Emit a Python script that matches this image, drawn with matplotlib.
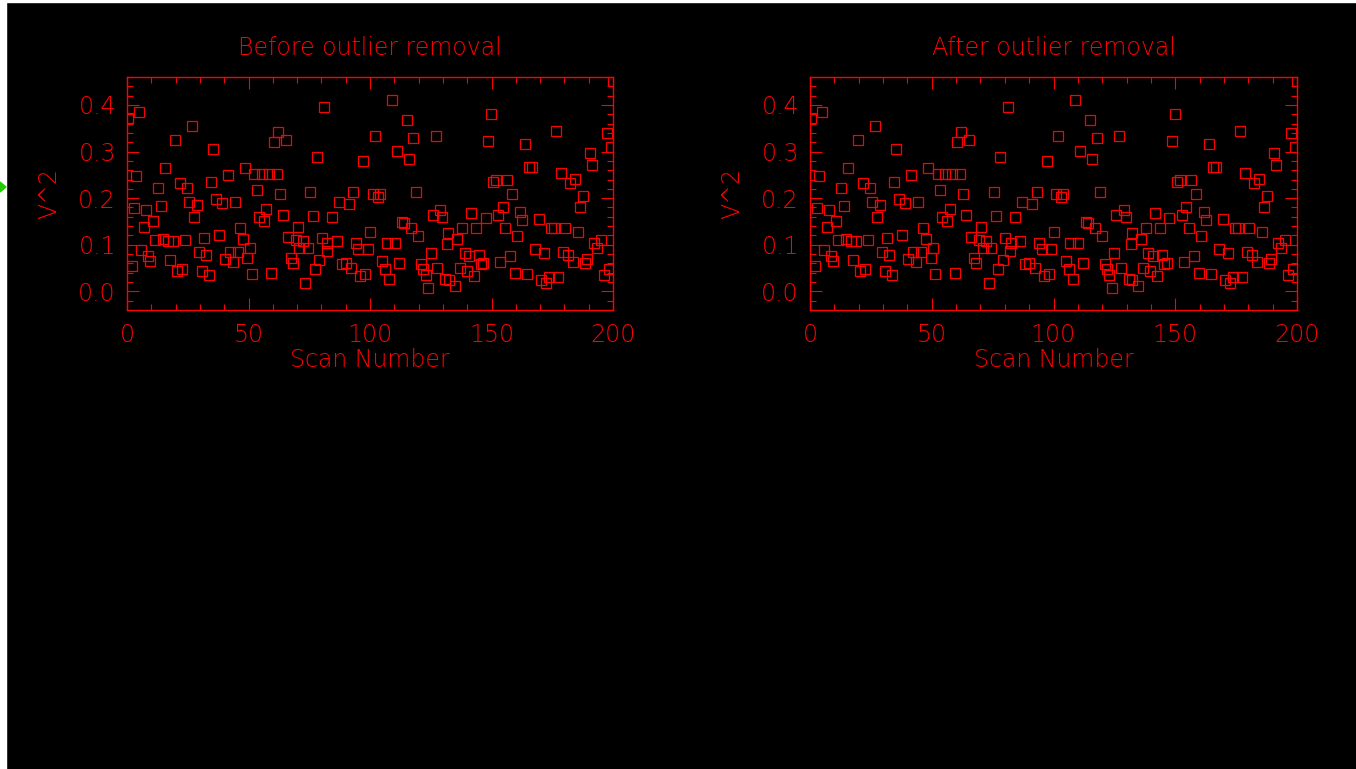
import matplotlib

matplotlib.use("Agg")
import matplotlib.pyplot as plt
from matplotlib.patches import Polygon, Rectangle
from matplotlib.ticker import MultipleLocator, FormatStrFormatter

# values (scan number, V^2)
scan_before = [
    0.5, 1.9, 2.8, 3.8, 4.8, 5.8, 6.9, 7.8, 8.6, 9.6,
    10.8, 11.7, 12.8, 13.9, 14.7, 15.8, 16.7, 17.7, 18.8, 19.8,
    20.6, 21.7, 22.6, 23.7, 24.6, 25.6, 26.7, 27.7, 28.7, 29.6,
    30.7, 31.6, 32.5, 33.6, 34.6, 35.5, 36.6, 37.7, 39.1, 40.4,
    41.6, 42.4, 43.6, 44.4, 45.6, 46.5, 47.6, 48.4, 49.5, 50.6,
    51.4, 52.4, 53.5, 54.4, 55.4, 56.2, 57.3, 58.4, 59.4, 60.4,
    61.6, 62.0, 63.0, 64.0, 65.3, 66.3, 67.5, 68.3, 69.5, 70.2,
    70.9, 72.3, 73.4, 74.4, 75.4, 76.4, 77.4, 78.2, 79.1, 80.2,
    81.2, 82.2, 82.4, 84.2, 86.3, 87.2, 88.4, 90.1, 91.2, 92.2,
    93.1, 94.1, 95.1, 95.9, 97.3, 98.1, 99.0, 100.1, 101.2, 102.0,
    103.2, 104.1, 105.1, 106.2, 106.9, 107.9, 108.9, 110.2, 111.0, 112.1,
    113.2, 114.1, 115.1, 115.9, 116.9, 117.8, 118.9, 119.9, 121.0, 121.8,
    122.9, 124.0, 125.0, 125.8, 127.0, 127.7, 128.9, 129.8, 130.9, 131.8,
    132.2, 132.4, 134.9, 135.9, 136.9, 137.9, 139.0, 139.8, 140.9, 141.7,
    142.7, 143.7, 144.7, 145.5, 146.6, 147.6, 148.7, 149.7, 150.7, 151.9,
    152.7, 153.6, 154.6, 155.6, 156.5, 157.5, 158.6, 159.8, 160.5, 161.7,
    162.7, 163.7, 164.5, 165.6, 166.7, 167.9, 169.5, 170.5, 171.5, 172.6,
    173.7, 174.6, 175.8, 176.4, 177.4, 178.5, 179.4, 180.4, 181.5, 182.4,
    183.5, 184.2, 185.5, 186.4, 187.5, 188.4, 189.3, 190.4, 191.4, 192.2,
    193.4, 195.2, 196.4, 197.4, 198.2, 199.2, 200.0,
]
v2_before = [
    .372, .054, .178, .247, .384, .089, .139, .174, .076, .066,
    .151, .111, .222, .184, .113, .264, .108, .067, .107, .324,
    .043, .233, .049, .110, .221, .192, .355, .160, .186, .085,
    .044, .115, .077, .035, .234, .306, .199, .120, .190, .069,
    .249, .084, .064, .192, .084, .136, .112, .264, .071, .093,
    .037, .251, .218, .159, .251, .151, .176, .251, .040, .321,
    .251, .343, .210, .164, .324, .116, .072, .061, .110, .139,
    .092, .109, .019, .092, .213, .162, .049, .288, .068, .115,
    .396, .086, .103, .159, .107, .192, .058, .060, .187, .050,
    .213, .103, .091, .034, .280, .037, .090, .127, .210, .333,
    .203, .208, .066, .048, .103, .027, .411, .103, .302, .060,
    .148, .147, .368, .283, .136, .329, .213, .118, .058, .047,
    .036, .007, .082, .164, .333, .051, .175, .159, .026, .102,
    .125, .024, .011, .112, .051, .135, .083, .044, .076, .169,
    .032, .136, .079, .058, .060, .157, .323, .381, .234, .240,
    .163, .063, .182, .137, .238, .076, .208, .039, .118, .171,
    .154, .316, .037, .267, .266, .091, .156, .024, .082, .019,
    .030, .136, .136, .344, .030, .253, .084, .136, .079, .232,
    .062, .242, .127, .180, .205, .060, .069, .296, .272, .103,
    .094, .111, .035, .339, .048, .309, .452,
]
# nothing visibly changes between the two panels
scan_after = list(scan_before)
v2_after = list(v2_before)

titles = ["Before outlier removal", "After outlier removal"]
RED = "#ff0000"
W, H = 1356, 769

fig = plt.figure(figsize=(W / 100, H / 100), dpi=100, facecolor="black")

# white screenshot margins and the little green marker on the left
fig.patches.append(Rectangle((0, 0), 6 / W, 1, transform=fig.transFigure, color="white", zorder=-1))
fig.patches.append(Rectangle((0, 1 - 2 / H), 1, 2 / H, transform=fig.transFigure, color="white", zorder=-1))
fig.patches.append(Polygon([(0, 1 - 182 / H), (0, 1 - 192 / H), (6 / W, 1 - 187 / H)],
                           closed=True, transform=fig.transFigure, color="#22cc00"))

panels = [(127, 486, scan_before, v2_before), (810, 487, scan_after, v2_after)]
font = dict(family="DejaVu Sans", color=RED, fontsize=17, fontweight="light")

for (x0, w, xs, ys), title in zip(panels, titles):
    ax = fig.add_axes([x0 / W, 1 - 310 / H, w / W, 233 / H])
    ax.set_facecolor("black")
    ax.plot(xs, ys, "s", ms=7.4, mfc="none", mec=RED, mew=0.9, clip_on=True)
    ax.set_xlim(0, 200)
    ax.set_ylim(-0.04, 0.46)
    ax.xaxis.set_major_locator(MultipleLocator(50))
    ax.xaxis.set_minor_locator(MultipleLocator(10))
    ax.yaxis.set_major_locator(MultipleLocator(0.1))
    ax.yaxis.set_minor_locator(MultipleLocator(0.02))
    ax.yaxis.set_major_formatter(FormatStrFormatter("%.1f"))
    ax.tick_params(which="both", direction="in", top=True, right=True, colors=RED,
                   width=0.8, labelcolor=RED, labelsize=17)
    ax.tick_params(which="major", length=8.6)
    ax.tick_params(which="minor", length=4.5)
    ax.tick_params(axis="x", pad=9)
    ax.tick_params(axis="y", pad=8)
    for sp in ax.spines.values():
        sp.set_color(RED)
        sp.set_linewidth(1.0)
    for lab in ax.get_xticklabels() + ax.get_yticklabels():
        lab.set_family("DejaVu Sans")
        lab.set_fontweight("light")
    ax.set_title(title, pad=16, **font)
    ax.set_xlabel("Scan Number", labelpad=1, **font)
    ax.set_ylabel("V^2", labelpad=12, **font)

fig.savefig("out.png", dpi=100, facecolor="black")
